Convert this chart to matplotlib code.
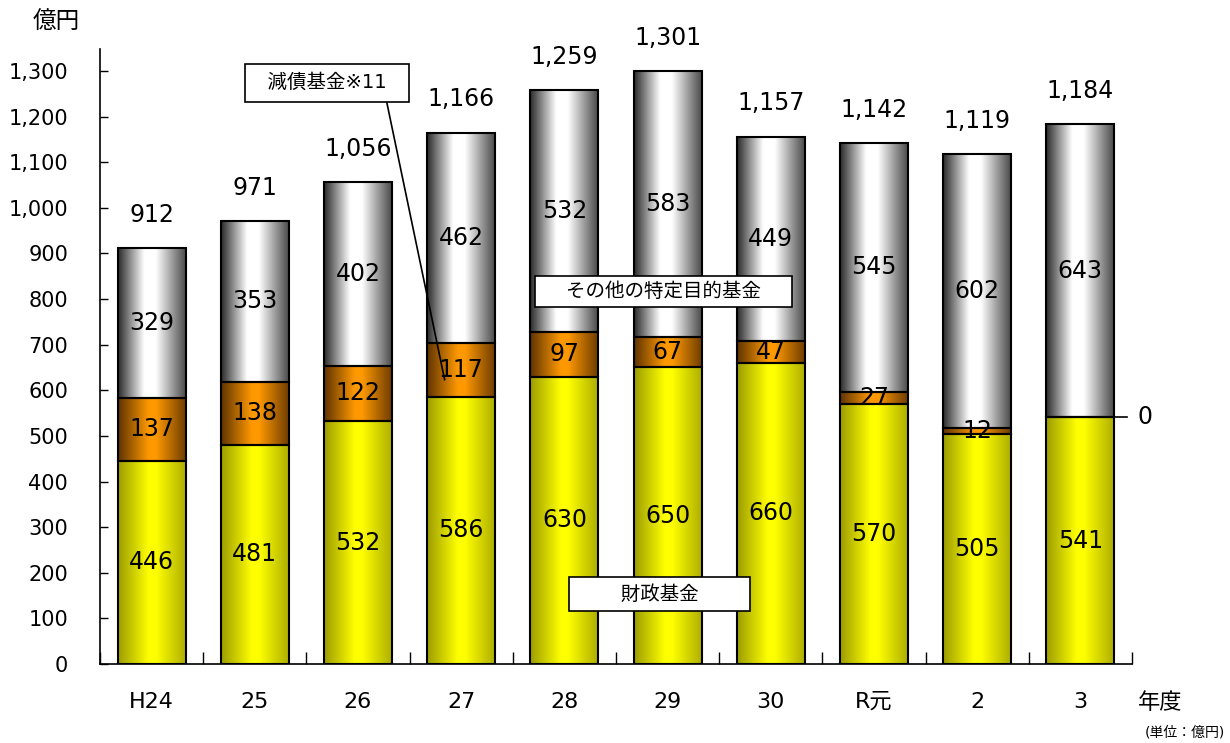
"""
Fund balances by fiscal year (stacked bars with cylinder-like shading)
"""

import numpy as np
import matplotlib
matplotlib.use("Agg")
import matplotlib.pyplot as plt
from matplotlib.colors import LinearSegmentedColormap

plt.rcParams['font.family'] = ['DejaVu Sans', 'Noto Sans CJK JP']

years = ["H24", "25", "26", "27", "28", "29", "30", "R元", "2", "3"]
fiscal_fund = [446, 481, 532, 586, 630, 650, 660, 570, 505, 541]
debt_fund = [137, 138, 122, 117, 97, 67, 47, 27, 12, 0]
other_fund = [329, 353, 402, 462, 532, 583, 449, 545, 602, 643]
totals = [912, 971, 1056, 1166, 1259, 1301, 1157, 1142, 1119, 1184]

cmaps = [
    LinearSegmentedColormap.from_list("yel", [(0, "#9c9c00"), (0.45, "#ffff00"), (0.55, "#ffff00"), (1, "#acac00")]),
    LinearSegmentedColormap.from_list("org", [(0, "#5e3300"), (0.45, "#ff9900"), (0.55, "#ff9900"), (1, "#6a3a00")]),
    LinearSegmentedColormap.from_list("gry", [(0, "#2a2a2a"), (0.38, "#ffffff"), (0.55, "#ffffff"), (1, "#444444")]),
]
grad = np.linspace(0, 1, 256).reshape(1, -1)


def main():
    fig = plt.figure(figsize=(12.3, 7.43), dpi=100)
    ax = fig.add_axes([0.0813, 0.1063, 0.8390, 0.8277])

    x = np.arange(len(years))
    width = 0.66
    bottoms = np.zeros(len(years))
    for i, vals in enumerate([fiscal_fund, debt_fund, other_fund]):
        bars = ax.bar(x, vals, width, bottom=bottoms, facecolor="none",
                      edgecolor="black", linewidth=1.5, zorder=3)
        for patch, v in zip(bars, vals):
            if v <= 0:
                continue
            x0, y0, w, h = patch.get_bbox().bounds
            ax.imshow(grad, extent=[x0, x0 + w, y0, y0 + h], aspect="auto",
                      cmap=cmaps[i], interpolation="bicubic", zorder=2)
        for xi, b, v in zip(x, bottoms, vals):
            if v > 0:
                ax.text(xi, b + v / 2, f"{v}", ha="center", va="center",
                        fontsize=17, zorder=5)
        bottoms = bottoms + np.array(vals)

    for xi, t in zip(x, totals):
        ax.text(xi, t + 72, f"{t:,}", ha="center", va="center", fontsize=17)

    # zero label for the debt fund in the last year
    last = len(years) - 1
    ax.plot([last + width / 2, last + 0.45], [fiscal_fund[last], fiscal_fund[last]],
            color="black", lw=1.2, zorder=4, clip_on=False)
    ax.text(last + 0.55, fiscal_fund[last], "0", ha="left", va="center", fontsize=17)

    ax.annotate("  減債基金※11  ", xy=(2.84, 623), xytext=(1.70, 1274), fontsize=14,
                ha="center", va="center",
                bbox=dict(boxstyle="square,pad=0.5", facecolor="white", edgecolor="black", lw=1.2),
                arrowprops=dict(arrowstyle="-", color="black", lw=1.2, shrinkA=0, shrinkB=0,
                                relpos=(0.9, 0)), zorder=6)
    ax.text(4.96, 817, "    その他の特定目的基金    ", fontsize=14, ha="center", va="center",
            bbox=dict(boxstyle="square,pad=0.3", facecolor="white", edgecolor="black", lw=1.2), zorder=6)
    ax.text(4.92, 153, "       財政基金       ", fontsize=14, ha="center", va="center",
            bbox=dict(boxstyle="square,pad=0.4", facecolor="white", edgecolor="black", lw=1.2), zorder=6)

    ax.set_xlim(-0.5, len(years) - 0.5)
    ax.set_ylim(0, 1348)
    ax.set_yticks(range(0, 1301, 100))
    ax.set_yticklabels([f"{v:,}" for v in range(0, 1301, 100)], fontsize=15)
    ax.set_xticks(x)
    ax.set_xticklabels(years, fontsize=16)
    ax.set_xticks(np.arange(-0.5, len(years)), minor=True)
    ax.tick_params(axis="y", direction="in", length=6, width=1, pad=23)
    ax.tick_params(axis="x", which="major", length=0, pad=20)
    ax.tick_params(axis="x", which="minor", direction="in", length=9, width=1)
    for side in ["top", "right"]:
        ax.spines[side].set_visible(False)
    ax.spines["left"].set_linewidth(1.2)
    ax.spines["bottom"].set_linewidth(1.2)

    fig.text(56 / 1230, 1 - 22 / 743, "億円", fontsize=17, ha="center", va="center")
    fig.text(1160 / 1230, 1 - 703 / 743, "年度", fontsize=16, ha="center", va="center")
    fig.text(1225 / 1230, 1 - 733 / 743, "(単位：億円)", fontsize=10, ha="right", va="center")

    fig.savefig("out.png", dpi=100)


if __name__ == "__main__":
    main()
